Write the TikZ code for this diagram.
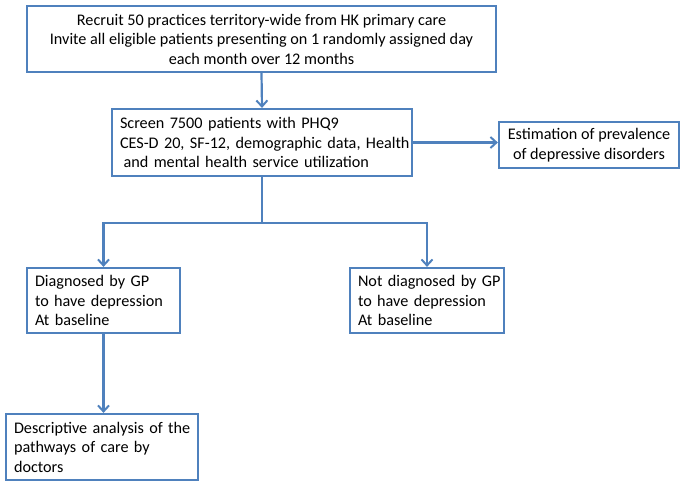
\documentclass[tikz,border=0pt]{standalone}
\usepackage{fontspec}
\setmainfont{Carlito}
\usetikzlibrary{arrows.meta,positioning,calc}
\definecolor{boxblue}{HTML}{4F81BD}
\begin{document}
\begin{tikzpicture}[x=1pt,y=-1pt,
  box/.style={draw=boxblue,line width=2.2pt,fill=white,rectangle,inner xsep=8pt,inner ysep=0pt,
    font=\fontsize{16.2}{19.5}\selectfont,text=black},
  lbox/.style={box,align=left},
  cbox/.style={box,align=center},
  conn/.style={draw=boxblue,line width=2.2pt},
  arr/.style={conn,-{Straight Barb[length=6pt,width=11pt,line width=2pt]}}]
\useasboundingbox (0,0) rectangle (685,488);
\node[cbox,minimum width=469pt,minimum height=66pt] (b1) at (261.5,39)
  {Recruit 50 practices territory-wide from HK primary care\\Invite all eligible patients presenting on 1 randomly assigned day\\each month over 12 months};
\node[lbox,minimum width=300pt,minimum height=67pt,text width=284pt] (b2) at (262,142.5)
  {\mbox{Screen 7500 patients with PHQ9}\\\mbox{CES-D 20, SF-12, demographic data, Health}\\\mbox{\hspace*{3.6pt}and mental health service utilization}};
\node[cbox,minimum width=180pt,minimum height=46pt] (b3) at (589,145)
  {Estimation of prevalence\\of depressive disorders};
\node[lbox,minimum width=153pt,minimum height=65pt,text width=137pt] (b4) at (103.5,300.5)
  {\mbox{Diagnosed by GP}\\\mbox{to have depression}\\\mbox{At baseline}};
\node[lbox,minimum width=154pt,minimum height=65pt,text width=138pt] (b5) at (427,300.5)
  {\mbox{Not diagnosed by GP}\\\mbox{to have depression}\\\mbox{At baseline}};
\node[lbox,minimum width=192pt,minimum height=66pt,text width=176pt] (b6) at (102,447)
  {\mbox{Descriptive analysis of the}\\\mbox{pathways of care by}\\\mbox{doctors}};
\coordinate (split) at ($(b2.south)+(0,46)$);
\draw[arr] (b1.south) -- (b2.north);
\draw[arr] (b2.east) -- (b2.east -| b3.west);
\draw[conn] (b2.south) -- (split);
\draw[arr] (split) -| (b4.north);
\draw[arr] (split) -| (b5.north);
\draw[arr] (b4.south) -- (b4.south |- b6.north);
\end{tikzpicture}
\end{document}
